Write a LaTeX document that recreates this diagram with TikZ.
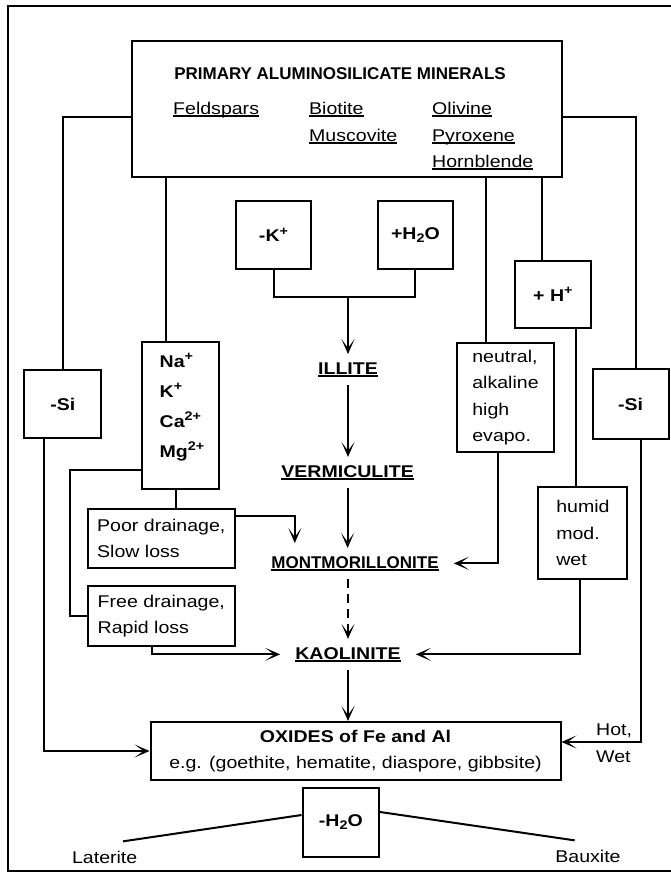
\documentclass[tikz,border=0pt]{standalone}
\usepackage{fontspec}
\setmainfont[FakeStretch=1.15]{Liberation Sans}
\newfontfamily\titlefont{Liberation Sans}
\usetikzlibrary{arrows.meta}

\newcommand\undl[1]{\sbox0{#1}\rlap{\rule[-2.6pt]{\wd0}{1.3pt}}\usebox0}
\newcommand\sups[1]{\raisebox{6.5pt}{\fontsize{12.5}{12}\selectfont #1}}
\newcommand\subs[1]{\raisebox{-3pt}{\fontsize{12.5}{12}\selectfont #1}}

\begin{document}
\begin{tikzpicture}[
  x=1pt,y=-1pt,
  every node/.style={font=\fontsize{17}{26.5}\selectfont},
  box/.style={draw,line width=2pt,inner sep=0pt,align=left},
  mineral/.style={font=\fontsize{17}{26.5}\selectfont\bfseries,inner xsep=15pt,inner ysep=8pt},
  link/.style={line width=2pt},
  arr/.style={link,-{Stealth[length=15pt,width=13pt,inset=9pt]}},
]
\useasboundingbox (0,0) rectangle (670,873);

% === Frame (right side cut off) ===
\draw[link] (680,6) -| (8,871) -- (680,871);

% === Primary minerals ===
\node[box,minimum width=430pt,minimum height=136pt] (prim) at (346.8,109) {};
\node[anchor=base,font=\titlefont\bfseries\fontsize{17}{26.5}\selectfont] (primT) at (340,79) {PRIMARY ALUMINOSILICATE MINERALS};
\node[anchor=base west,inner sep=0pt] (feld) at (173,114) {\undl{Feldspars}};
\node[anchor=base west,inner sep=0pt] (bio) at (309,114) {\undl{Biotite}};
\node[anchor=base west,inner sep=0pt] (musc) at (309,141) {\undl{Muscovite}};
\node[anchor=base west,inner sep=0pt] (oliv) at (432,114) {\undl{Olivine}};
\node[anchor=base west,inner sep=0pt] (pyro) at (432,141) {\undl{Pyroxene}};
\node[anchor=base west,inner sep=0pt] (horn) at (432,167) {\undl{Hornblende}};

% === Conditions and losses ===
\node[box,minimum width=77pt,minimum height=68pt] (siL) at (62.9,404) {\bfseries -Si};
\node[box,minimum width=76pt,minimum height=70pt] (siR) at (630.5,404) {\bfseries -Si};
\node[box,minimum width=76.5pt,minimum height=147pt] (ions) at (180.6,415.5) {};
\node[align=left,inner sep=0pt,font=\fontsize{17}{30}\selectfont\bfseries] (ionsT) at (182,407)
  {Na\sups{+}\\K\sups{+}\\Ca\sups{2+}\\Mg\sups{2+}};
\node[box,minimum width=147.4pt,minimum height=59pt] (poor) at (161.3,538.5) {Poor drainage,\\Slow loss};
\node[box,minimum width=147.4pt,minimum height=60pt] (free) at (161.3,616) {Free drainage,\\Rapid loss};
\node[box,minimum width=75pt,minimum height=68pt] (mK) at (273.5,235) {\bfseries -K\sups{+}};
\node[box,minimum width=75.3pt,minimum height=68pt] (pW) at (415.4,235) {\bfseries +H\subs{2}O};
\node[box,minimum width=97pt,minimum height=109pt] (neut) at (505.5,397.5) {neutral,\\alkaline\\high\\evapo.};
\node[box,minimum width=75.7pt,minimum height=67pt] (pH) at (552.9,294.5) {\bfseries + H\sups{+}};
\node[box,minimum width=89pt,minimum height=92pt] (humid) at (582.9,533) {humid\\mod.\\wet};

% === Clay minerals ===
\node[mineral,anchor=base] (illite) at (348,374) {\undl{ILLITE}};
\node[mineral,anchor=base] (verm) at (347.6,477) {\undl{VERMICULITE}};
\node[mineral,anchor=base,font=\titlefont\bfseries\fontsize{17}{26.5}\selectfont] (mont) at (355,568) {\undl{MONTMORILLONITE}};
\node[mineral,anchor=base] (kaol) at (348,659) {\undl{KAOLINITE}};

% === Oxides and end products ===
\node[box,align=center,minimum width=410pt,minimum height=58pt] (oxid) at (355.5,751)
  {{\bfseries OXIDES of Fe and Al}\\e.g. (goethite, hematite, diaspore, gibbsite)};
\node[box,minimum width=76.5pt,minimum height=69pt] (dW) at (340.8,822.5) {\bfseries -H\subs{2}O};
\node[anchor=base] (lat) at (104.7,863) {Laterite};
\node[anchor=base] (baux) at (588,862) {Bauxite};
\node[anchor=west,align=left,inner sep=0pt] (hot) at (596,743) {Hot,\\Wet};

% === Left branches ===
\draw[link] ([yshift=-8pt]prim.west) -| (siL.north);
\draw[arr] ([xshift=-18.9pt]siL.south) |- (oxid.west);
\coordinate (ionsIn) at ([xshift=-14.8pt]ions.north);
\draw[link] (prim.south -| ionsIn) -- (ionsIn);
\coordinate (ionsOut) at ([xshift=-4.6pt]ions.south);
\draw[link] (ionsOut) -- (ionsOut |- poor.north);
\draw[link] ([yshift=-54.5pt]ions.west) -| ([xshift=-17pt]free.west) -- (free.west);
\coordinate (montL) at (294.8,543);
\draw[arr] ([yshift=22.5pt]poor.east) -| (montL);
\draw[arr] ([xshift=-9.6pt]free.south) |- (kaol.west);

% === Weathering sequence ===
\draw[link] (mK.south) -- ++(0,27) coordinate (kw) -| (pW.south);
\draw[arr] (kw -| illite.north) -- (illite.north);
\draw[arr] (illite.south) -- (illite.south |- verm.north);
\draw[arr] (verm.south) -- (verm.south |- mont.north);
\draw[arr,dash pattern=on 9pt off 6pt] (mont.south -| kaol.north) -- (kaol.north);
\draw[arr] (kaol.south) -- (kaol.south |- oxid.north);

% === Right branches ===
\coordinate (neutIn) at ([xshift=-19.7pt]neut.north);
\draw[link] (prim.south -| neutIn) -- (neutIn);
\draw[arr] ([xshift=-7.7pt]neut.south) |- (mont.east);
\coordinate (pHIn) at ([xshift=-11.1pt]pH.north);
\draw[link] (prim.south -| pHIn) -- (pHIn);
\coordinate (humidIn) at ([xshift=-7.3pt]humid.north);
\draw[link] (humidIn |- pH.south) -- (humidIn);
\draw[arr] ([xshift=-3pt]humid.south) |- (kaol.east);
\draw[link] ([yshift=-8pt]prim.east) -| ([xshift=5.8pt]siR.north);
\draw[arr] ([xshift=10.1pt]siR.south) |- ([yshift=9pt]oxid.east);

% === Dehydration ===
\draw[link] ([yshift=7.5pt]dW.west) -- ([xshift=18.3pt,yshift=5.8pt]lat.north);
\draw[link] ([yshift=10.5pt]dW.east) -- ([xshift=-13.3pt,yshift=5.8pt]baux.north);

\end{tikzpicture}
\end{document}
